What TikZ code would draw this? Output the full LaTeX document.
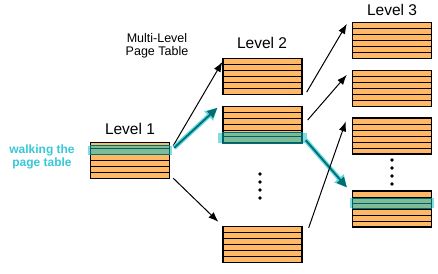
\documentclass[tikz,border=0pt]{standalone}
\usepackage{fontspec}
\setmainfont{Liberation Sans}
\usetikzlibrary{arrows.meta}
\definecolor{ptorange}{RGB}{255,185,102}
\definecolor{tealdark}{RGB}{0,110,112}
\definecolor{tealglow}{RGB}{95,215,228}
\definecolor{bandcyan}{RGB}{0,190,200}
\definecolor{walktext}{RGB}{55,200,215}
\begin{document}
\begin{tikzpicture}[x=1pt,y=-1pt,>={Latex[length=10pt,width=7.5pt]}]
    \tikzset{
        ptable/.style={
            draw,line width=1.3pt,fill=ptorange,
            minimum width=79pt,minimum height=36pt,inner sep=0pt,
            path picture={
                \foreach \r in {1,...,5}{
                    \draw[line width=0.8pt]
                        ([yshift=-\r*6pt]path picture bounding box.north west) --
                        ([yshift=-\r*6pt]path picture bounding box.north east);
                }
            }
        },
        level/.style={font=\fontsize{15.5}{18}\selectfont},
        band/.style={fill=bandcyan,fill opacity=0.5},
        bandline/.style={draw=tealdark,line width=1.1pt},
        link/.style={->,line width=1pt},
        walk/.style={
            -{Triangle[length=10pt,width=9pt]},draw=tealdark,line width=1.8pt,
            preaction={draw=tealglow,line width=4.5pt,-{Triangle[length=12pt,width=12pt]}}
        },
        dotcol/.style={fill=black}
    }
    \useasboundingbox (0,0) rectangle (438,273);

    \node[ptable] (l1) at (130,160.5) {};

    \node[ptable] (l2a) at (262.5,76.5) {};
    \node[ptable] (l2b) at (262.5,124.5) {};
    \node[ptable] (l2c) at (262.5,244.5) {};

    \node[ptable] (l3a) at (392,40.5) {};
    \node[ptable] (l3b) at (392,88.5) {};
    \node[ptable] (l3c) at (392,136) {};
    \node[ptable] (l3d) at (392,209) {};

    \fill[band] ([xshift=-2pt,yshift=-4pt]l1.north west) rectangle ([xshift=2pt,yshift=-13pt]l1.north east);
    \draw[bandline] ([yshift=-4pt]l1.north west) -- ([yshift=-4pt]l1.north east);
    \draw[bandline] ([yshift=-13pt]l1.north west) -- ([yshift=-13pt]l1.north east);

    \fill[band] ([xshift=-4pt,yshift=-27pt]l2b.north west) rectangle ([xshift=4pt]l2b.south east);
    \draw[bandline] ([yshift=-27pt]l2b.north west) -- ([yshift=-27pt]l2b.north east);
    \draw[bandline] (l2b.south west) -- (l2b.south east);

    \fill[band] ([xshift=-2pt,yshift=-8pt]l3d.north west) rectangle ([xshift=2pt,yshift=-18pt]l3d.north east);
    \draw[bandline] ([yshift=-8pt]l3d.north west) -- ([yshift=-8pt]l3d.north east);
    \draw[bandline] ([yshift=-18pt]l3d.north west) -- ([yshift=-18pt]l3d.north east);

    \node[level] (lv1) at (130,129) {Level 1};
    \node[level] (lv2) at (262,43) {Level 2};
    \node[level] (lv3) at (392,10) {Level 3};
    \node[align=center,font=\fontsize{12.5}{13}\selectfont] (mlpt) at (157,45.5)
        {Multi-Level\\Page Table};
    \node[align=center,text=walktext,font=\fontsize{12}{12.5}\selectfont\bfseries] (walking) at (42,157)
        {walking the\\page table};

    \foreach \k in {0,...,3}{
        \fill[dotcol] (260,174+8*\k) circle (1.8pt);
        \fill[dotcol] (392,160+8*\k) circle (1.8pt);
    }

    \draw[link] ([xshift=3pt,yshift=-4pt]l1.north east) -- ([yshift=-4pt]l2a.north west);
    \draw[walk] ([xshift=4pt,yshift=-6pt]l1.north east) -- ([xshift=-5pt,yshift=-2pt]l2b.north west);
    \draw[link] ([xshift=3pt,yshift=1pt]l1.south east) -- ([xshift=-4pt,yshift=4pt]l2c.north west);

    \draw[link] ([xshift=4pt,yshift=3pt]l2a.south east) -- ([xshift=-5pt,yshift=-2pt]l3a.north west);
    \draw[link] ([xshift=5pt,yshift=4.5pt]l2b.east) -- ([xshift=-5pt,yshift=-5pt]l3b.north west);
    \draw[walk] ([xshift=3pt,yshift=3pt]l2b.south east) -- ([xshift=-5pt,yshift=3pt]l3d.north west);
    \draw[link] ([xshift=6pt,yshift=-2pt]l2c.north east) -- ([xshift=-6pt,yshift=-4pt]l3c.north west);
\end{tikzpicture}
\end{document}
